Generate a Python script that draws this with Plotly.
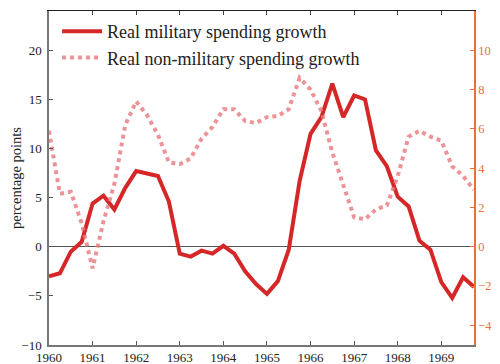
import plotly.graph_objs as go

# Quarterly observations, 1960Q1 - 1969Q4
quarters = [1960 + k / 4 for k in range(40)]

# Real military spending growth (left axis, percentage points)
military = [
    -3.0, -2.7, -0.5, 0.5, 4.4, 5.2, 3.8, 6.0,
    7.7, 7.5, 7.2, 4.6, -0.7, -1.0, -0.4, -0.7,
    0.1, -0.7, -2.5, -3.8, -4.8, -3.5, -0.3, 6.7,
    11.5, 13.2, 16.6, 13.2, 15.4, 15.0, 9.8, 8.2,
    5.1, 4.1, 0.6, -0.3, -3.6, -5.2, -3.1, -4.1,
]

# Real non-military spending growth (right axis)
non_military = [
    5.9, 2.7, 2.8, 1.2, -1.1, 1.3, 3.2, 6.2,
    7.4, 6.7, 5.7, 4.3, 4.2, 4.5, 5.5, 6.1,
    7.0, 7.0, 6.4, 6.3, 6.6, 6.65, 7.0, 8.6,
    8.0, 6.9, 4.8, 3.1, 1.5, 1.4, 1.9, 2.1,
    3.6, 5.6, 5.9, 5.6, 5.4, 4.1, 3.6, 2.9,
]

red = '#d62728'
pink = 'rgba(231,120,125,0.8)'
orange = '#e8703c'
font = 'Liberation Serif'

fig = go.Figure()

fig.add_trace(go.Scatter(
    x=quarters, y=military,
    mode='lines', name='Real military spending growth',
    line=dict(color=red, width=4),
))

fig.add_trace(go.Scatter(
    x=quarters, y=non_military,
    mode='lines', name='Real non-military spending growth',
    line=dict(color=pink, width=4, dash='dot'),
    yaxis='y2',
))

# invisible point so the top axis gets drawn
fig.add_trace(go.Scatter(x=[1960], y=[0], xaxis='x2', mode='markers',
                         marker=dict(opacity=0), showlegend=False, hoverinfo='skip'))

# page body has an 8px margin, so the figure is 8px smaller than the window
fig.update_layout(
    width=492, height=356,
    margin=dict(l=41, r=26, t=3, b=19, autoexpand=False),
    plot_bgcolor='white', paper_bgcolor='white',
    font=dict(family=font, size=13, color='#222'),
    showlegend=True,
    legend=dict(
        x=0.019, y=0.994, xanchor='left', yanchor='top',
        bgcolor='rgba(0,0,0,0)', font=dict(size=18, color='#222'),
        tracegroupgap=0, itemwidth=40,
    ),
    xaxis=dict(
        range=[1960, 1969.75], dtick=1, tick0=1960,
        showgrid=False, zeroline=False, automargin=False,
        showline=True, linecolor='#777', linewidth=1.5,
        ticks='inside', ticklen=4, tickcolor='#555',
    ),
    xaxis2=dict(
        overlaying='x', side='top', matches='x',
        range=[1960, 1969.75], dtick=1, tick0=1960,
        showgrid=False, zeroline=False, showticklabels=False, automargin=False,
        showline=True, linecolor='#222', linewidth=1,
        ticks='inside', ticklen=4, tickcolor='#444',
    ),
    yaxis=dict(
        range=[-10, 24], dtick=5, tick0=-10,
        showgrid=False, automargin=False,
        zeroline=True, zerolinecolor='#555', zerolinewidth=1,
        showline=True, linecolor='#777', linewidth=1.5,
        ticks='inside', ticklen=4, tickcolor='#555', ticklabelstandoff=3,
        title=dict(text='percentage points', font=dict(size=14.5), standoff=4),
    ),
    yaxis2=dict(
        range=[-5, 12], dtick=2, tick0=-4,
        overlaying='y', side='right', automargin=False,
        showgrid=False, zeroline=False,
        showline=True, linecolor=orange, linewidth=1.5,
        ticks='inside', ticklen=4, tickcolor=orange,
        tickfont=dict(color=orange, size=12.5),
    ),
)

fig.write_html("out.html")
